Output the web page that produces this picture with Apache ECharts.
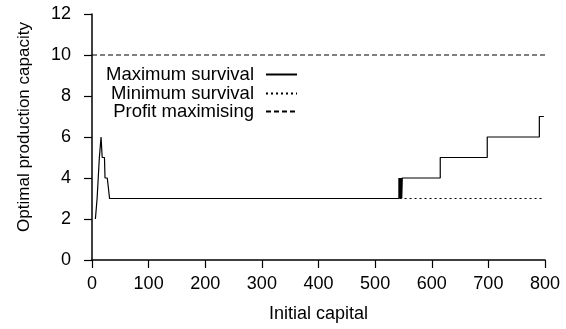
<!DOCTYPE html>
<html>
<head>
<meta charset="utf-8">
<script src="https://cdn.jsdelivr.net/npm/echarts@6/dist/echarts.min.js"></script>
<style>html,body{margin:0;padding:0;background:#fff}#c{width:566px;height:329px}</style>
</head>
<body>
<div id="c"></div>
<script>
// Maximum survival (solid)
const maxCapital  = [6, 9, 13, 16, 18, 22, 23, 27, 31, 542, 542, 543, 543, 544, 544, 545, 545, 546, 546, 547, 547, 548, 615, 615, 698, 698, 790, 790, 798];
const maxCapacity = [2, 3, 5, 6, 5, 5, 4, 4, 3, 3, 4, 4, 3, 3, 4, 4, 3, 3, 4, 4, 3, 4, 4, 5, 5, 6, 6, 7, 7];
// Minimum survival (dotted)
const minCapital  = [31, 798];
const minCapacity = [3, 3];
// Profit maximising (dashed)
const profitCapital  = [0, 800];
const profitCapacity = [10, 10];
const xTicks = [0, 100, 200, 300, 400, 500, 600, 700, 800];
const yTicks = [0, 2, 4, 6, 8, 10, 12];

const FONT = 'Liberation Sans, Arial, sans-serif';
const zip = (a, b) => a.map((v, i) => [v, b[i]]);
const chart = echarts.init(document.getElementById('c'));
const legendBase = (name, top) => ({
  data: [name], right: 268, top: top, orient: 'vertical', align: 'right',
  padding: 0, itemGap: 0, itemWidth: 31, itemHeight: 12,
  itemStyle: { opacity: 0 },
  textStyle: { fontSize: 18.5, color: '#000', fontFamily: FONT, padding: [0, 7, 0, 0] },
  selectedMode: false
});
chart.setOption({
  animation: false,
  backgroundColor: '#fff',
  grid: { left: 92, right: 21, top: 14, bottom: 69 },
  legend: [
    legendBase('Maximum survival', 65),
    legendBase('Minimum survival', 84),
    legendBase('Profit maximising', 102)
  ],
  xAxis: {
    type: 'value', min: xTicks[0], max: xTicks[xTicks.length - 1], interval: 100,
    name: 'Initial capital', nameLocation: 'middle', nameGap: 45,
    nameTextStyle: { fontSize: 18, color: '#000', fontFamily: FONT },
    axisLine: { onZero: false, lineStyle: { color: '#000', width: 1.5 } },
    axisTick: { inside: false, length: 8, lineStyle: { color: '#000', width: 1.2 } },
    axisLabel: { fontSize: 18, color: '#000', fontFamily: FONT, margin: 15 },
    splitLine: { show: false }
  },
  yAxis: {
    type: 'value', min: yTicks[0], max: yTicks[yTicks.length - 1], interval: 2,
    name: 'Optimal production capacity', nameLocation: 'middle', nameGap: 59, nameRotate: 90,
    nameTextStyle: { fontSize: 17, color: '#000', fontFamily: FONT, padding: [0, 0, 0, 20] },
    axisLine: { show: true, onZero: false, lineStyle: { color: '#000', width: 1.5 } },
    axisTick: { show: true, inside: false, length: 8, lineStyle: { color: '#000', width: 1.2 } },
    axisLabel: { fontSize: 18, color: '#000', fontFamily: FONT, margin: 21 },
    splitLine: { show: false }
  },
  series: [
    { name: 'Maximum survival', type: 'line', data: zip(maxCapital, maxCapacity), symbol: 'none', z: 5,
      lineStyle: { color: '#000', width: 1.2, type: 'solid' }, itemStyle: { color: '#000' } },
    { name: 'Minimum survival', type: 'line', data: zip(minCapital, minCapacity), symbol: 'none', z: 3,
      lineStyle: { color: '#000', width: 1.2, type: [2, 3] }, itemStyle: { color: '#000' } },
    { name: 'Profit maximising', type: 'line', data: zip(profitCapital, profitCapacity), symbol: 'none', z: 3,
      lineStyle: { color: '#000', width: 1.2, type: [5, 3] }, itemStyle: { color: '#000' } }
  ]
});
</script>
</body>
</html>
